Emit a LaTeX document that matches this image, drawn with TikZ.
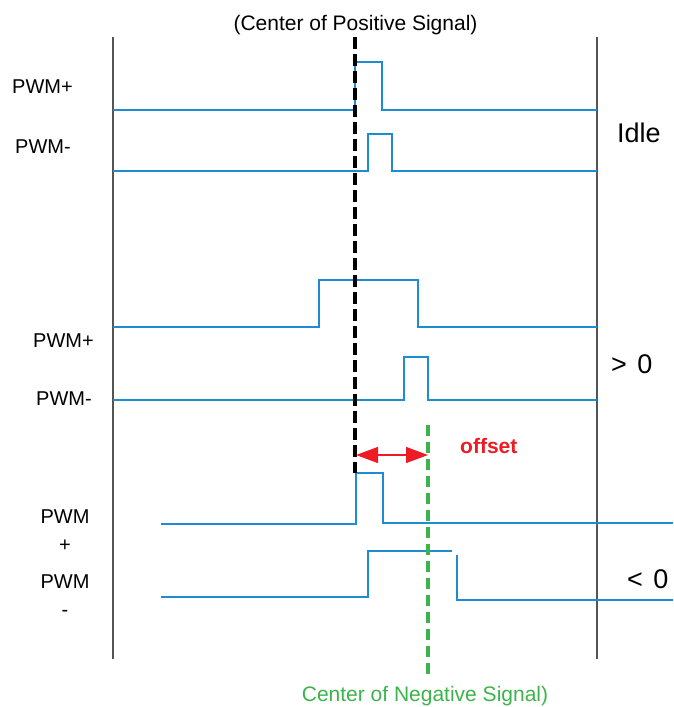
\documentclass[tikz,border=0pt]{standalone}
\usepackage{fontspec}
\setmainfont{Liberation Sans}
\usetikzlibrary{arrows.meta}
\definecolor{sig}{RGB}{30,140,210}
\definecolor{axisgray}{RGB}{85,85,85}
\definecolor{offred}{RGB}{237,28,36}
\definecolor{cgreen}{RGB}{60,180,75}
\begin{document}
\begin{tikzpicture}[x=1pt,y=-1pt,
  sigline/.style={draw=sig,line width=1.3pt},
  framel/.style={draw=axisgray,line width=1.4pt},
  posdash/.style={draw=black,line width=3.6pt,dash pattern=on 12pt off 5pt},
  negdash/.style={draw=cgreen,line width=3.2pt,dash pattern=on 11pt off 6pt},
  lbl/.style={font=\fontsize{20}{28}\selectfont,inner sep=0pt},
  biglbl/.style={font=\fontsize{27}{30}\selectfont,inner sep=0pt},
  ttl/.style={font=\fontsize{21}{24}\selectfont,inner sep=0pt},
  offarrow/.style={draw=offred,line width=1.2pt,{Triangle[length=22pt,width=16pt]}-{Triangle[length=22pt,width=16pt]}}
]
\useasboundingbox[fill=white] (0,0) rectangle (673,707);

% frame lines
\coordinate (lt) at (113,37); \coordinate (lb) at (113,659);
\coordinate (rt) at (597,37); \coordinate (rb) at (597,659);
\draw[framel] (lt) -- (lb);
\draw[framel] (rt) -- (rb);

% title and centre lines
\node[ttl,anchor=base] (title) at (355.5,30) {(Center of Positive Signal)};
\node[ttl,anchor=base,text=cgreen] (negtitle) at (425,701) {Center of Negative Signal)};
\coordinate (pt) at (355,37); \coordinate (pb) at (355,473);
\coordinate (nt) at (428,425); \coordinate (nb) at (428,679);

% Idle
\node[lbl,anchor=base west] (idlep) at (12,93) {PWM+};
\node[lbl,anchor=base west] (idlem) at (15,153) {PWM-};
\node[font=\fontsize{27}{30}\selectfont,inner sep=0pt,anchor=base west] (idle) at (617,142) {Idle};
\draw[sigline] (113,110) -- (355,110) -- (355,62) -- (382,62) -- (382,110) -- (597,110);
\draw[sigline] (113,171) -- (368,171) -- (368,134) -- (392,134) -- (392,171) -- (597,171);

% > 0
\node[lbl,anchor=base west] (gtp) at (33,347) {PWM+};
\node[lbl,anchor=base west] (gtm) at (36,405) {PWM-};
\node[biglbl,anchor=base west] (gt) at (611,373) {> \hspace{3pt}0};
\draw[sigline] (113,327) -- (319,327) -- (319,280) -- (418,280) -- (418,327) -- (597,327);
\draw[sigline] (113,400) -- (404,400) -- (404,357) -- (428,357) -- (428,400) -- (597,400);

% < 0
\node[lbl,anchor=north,align=center] (ltp) at (65,510) {PWM\\+};
\node[lbl,anchor=north,align=center] (ltm) at (65,575) {PWM\\-};
\node[biglbl,anchor=base west] (lt0) at (627,588) {< \hspace{3pt}0};
\draw[sigline] (161,524) -- (356,524) -- (356,473) -- (383,473) -- (383,523) -- (673,523);
\draw[sigline] (161,597) -- (368,597) -- (368,551) -- (452,551);
\draw[sigline] (457,555) -- (457,600) -- (673,600);

% centre lines
\draw[posdash] (pt) -- (pb);
\draw[negdash] (nt) -- (nb);

% offset
\coordinate (oa) at (356,455); \coordinate (ob) at (428,455);
\draw[offarrow] (oa) -- (ob);
\node[font=\fontsize{21}{24}\selectfont\bfseries,text=offred,inner sep=0pt,anchor=base west] (offset) at (460,453) {offset};
\end{tikzpicture}
\end{document}
